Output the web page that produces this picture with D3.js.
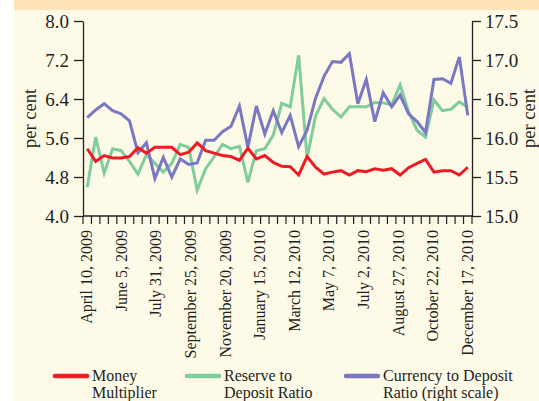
<!DOCTYPE html>
<html>
<head>
<meta charset="utf-8">
<script src="https://cdn.jsdelivr.net/npm/d3@7"></script>
<style>
	body { margin: 0; padding: 0; background: #ffffff; }
	svg { display: block; }
	text { font-family: "Liberation Serif", "Times New Roman", serif; fill: #231f20; }
</style>
</head>
<body>
<div id="chart"></div>
<script>
// fortnightly observations, April 10, 2009 to December 17, 2010
var dateLabels = ["April 10, 2009", "June 5, 2009", "July 31, 2009", "September 25, 2009",
	"November 20, 2009", "January 15, 2010", "March 12, 2010", "May 7, 2010",
	"July 2, 2010", "August 27, 2010", "October 22, 2010", "December 17, 2010"];

var moneyMultiplier = [5.38, 5.12, 5.24, 5.19, 5.19, 5.22, 5.40, 5.29, 5.41, 5.41,
	5.41, 5.26, 5.31, 5.50, 5.34, 5.29, 5.24, 5.22, 5.14, 5.39,
	5.17, 5.24, 5.10, 5.02, 5.01, 4.84, 5.22, 5.00, 4.86, 4.90,
	4.93, 4.84, 4.93, 4.91, 4.97, 4.94, 4.97, 4.84, 4.99, 5.08,
	5.16, 4.90, 4.93, 4.93, 4.84, 5.00];

var reserveRatio = [4.59, 5.62, 4.88, 5.38, 5.34, 5.12, 4.86, 5.26, 5.08, 4.90,
	5.08, 5.47, 5.41, 4.53, 4.97, 5.21, 5.47, 5.38, 5.43, 4.69,
	5.34, 5.38, 5.66, 6.31, 6.24, 7.30, 5.19, 6.05, 6.41, 6.19,
	6.03, 6.24, 6.24, 6.24, 6.33, 6.32, 6.28, 6.69, 6.14, 5.76,
	5.62, 6.38, 6.16, 6.19, 6.34, 6.23];

var currencyRatio = [16.26, 16.36, 16.44, 16.35, 16.31, 16.22, 15.81, 15.94, 15.48, 15.75,
	15.50, 15.73, 15.66, 15.68, 15.97, 15.97, 16.08, 16.15, 16.41, 15.88,
	16.41, 16.05, 16.35, 16.07, 16.29, 15.89, 16.10, 16.51, 16.79, 16.98,
	16.97, 17.08, 16.44, 16.75, 16.21, 16.58, 16.40, 16.55, 16.31, 16.21,
	16.07, 16.75, 16.76, 16.70, 17.04, 16.29];

var leftTicks = [4.0, 4.8, 5.6, 6.4, 7.2, 8.0];
var rightTicks = [15.0, 15.5, 16.0, 16.5, 17.0, 17.5];

var seriesNames = ["Money|Multiplier", "Reserve to|Deposit Ratio", "Currency to Deposit|Ratio (right scale)"];
var seriesColors = ["#ed1c24", "#7fcc9c", "#7a78c0"];


var width = 539, height = 401;
var plotLeft = 83, plotRight = 472, plotTop = 21, plotBottom = 216;

var svg = d3.select("#chart").append("svg")
			.attr("width", width)
			.attr("height", height);

// backgrounds
svg.append("rect")
	.attr("x", 0).attr("y", 0)
	.attr("width", width).attr("height", height)
	.attr("fill", "#fefae8");
svg.append("rect")
	.attr("x", 0).attr("y", 0)
	.attr("width", width).attr("height", 10)
	.attr("fill", "#fde3b7");
svg.append("rect")
	.attr("x", 0).attr("y", 0)
	.attr("width", 14).attr("height", height)
	.attr("fill", "#ffffff");

var n = moneyMultiplier.length;

var x = d3.scaleBand()
			.domain(d3.range(n))
			.range([plotLeft, plotRight]);

var xLabel = d3.scaleLinear()
			.domain([0, dateLabels.length - 1])
			.range([x(0) + x.bandwidth() / 2, x(n - 1) + x.bandwidth() / 2]);

var yLeft = d3.scaleLinear()
			.domain([4.0, 8.0])
			.range([plotBottom, plotTop]);

var yRight = d3.scaleLinear()
			.domain([15.0, 17.5])
			.range([plotBottom, plotTop]);

// lines
function drawSeries(values, yScale, color){
	var line = d3.line()
				.x(function(d, i){ return x(i) + x.bandwidth() / 2; })
				.y(function(d){ return yScale(d); });

	svg.append("path")
		.datum(values)
		.attr("d", line)
		.attr("fill", "none")
		.attr("stroke", color)
		.attr("stroke-width", 3)
		.attr("stroke-linejoin", "miter");
}

drawSeries(reserveRatio, yLeft, seriesColors[1]);
drawSeries(currencyRatio, yRight, seriesColors[2]);
drawSeries(moneyMultiplier, yLeft, seriesColors[0]);

// axes
var leftAxis = d3.axisLeft(yLeft)
				.tickValues(leftTicks)
				.tickFormat(d3.format(".1f"))
				.tickSize(9)
				.tickPadding(5)
				.tickSizeOuter(0);

var rightAxis = d3.axisRight(yRight)
				.tickValues(rightTicks)
				.tickFormat(d3.format(".1f"))
				.tickSize(9)
				.tickPadding(4)
				.tickSizeOuter(0);

var gLeft = svg.append("g")
			.attr("transform", "translate(" + plotLeft + ",0)")
			.call(leftAxis);

var gRight = svg.append("g")
			.attr("transform", "translate(" + plotRight + ",0)")
			.call(rightAxis);

[gLeft, gRight].forEach(function(g){
	g.attr("font-family", null);
	g.selectAll("path, line")
		.attr("stroke", "#231f20")
		.attr("stroke-width", 1.3);
	g.selectAll("text")
		.attr("font-size", 19)
		.attr("fill", "#231f20");
});

// x axis line and fortnight ticks at band edges
svg.append("line")
	.attr("x1", plotLeft).attr("x2", plotRight)
	.attr("y1", plotBottom).attr("y2", plotBottom)
	.attr("stroke", "#231f20")
	.attr("stroke-width", 1.3);

svg.append("g")
	.selectAll("line")
	.data(d3.range(n + 1))
	.join("line")
	.attr("x1", function(d){ return d < n ? x(d) : x(n - 1) + x.bandwidth(); })
	.attr("x2", function(d){ return d < n ? x(d) : x(n - 1) + x.bandwidth(); })
	.attr("y1", plotBottom)
	.attr("y2", plotBottom + 8)
	.attr("stroke", "#231f20")
	.attr("stroke-width", 1.2);

svg.append("g")
	.selectAll("text")
	.data(dateLabels)
	.join("text")
	.attr("transform", function(d, i){ return "translate(" + (xLabel(i) + 5) + "," + (plotBottom + 14) + ") rotate(-90)"; })
	.attr("text-anchor", "end")
	.attr("font-size", 16)
	.text(function(d){ return d; });

// axis titles
svg.append("text")
	.attr("transform", "translate(36," + ((plotTop + plotBottom) / 2) + ") rotate(-90)")
	.attr("text-anchor", "middle")
	.attr("font-size", 18.5)
	.text("per cent");

svg.append("text")
	.attr("transform", "translate(535," + ((plotTop + plotBottom) / 2) + ") rotate(-90)")
	.attr("text-anchor", "middle")
	.attr("font-size", 18.5)
	.text("per cent");

// legend
var legendX = [55, 187, 346];
seriesNames.forEach(function(name, i){
	var g = svg.append("g")
				.attr("transform", "translate(" + legendX[i] + ",376)");
	g.append("line")
		.attr("x1", 0).attr("x2", 32)
		.attr("y1", 0).attr("y2", 0)
		.attr("stroke", seriesColors[i])
		.attr("stroke-width", 4.5)
		.attr("stroke-linecap", "round");
	var t = g.append("text")
				.attr("x", 37)
				.attr("y", 5)
				.attr("font-size", 16);
	name.split("|").forEach(function(part, j){
		t.append("tspan")
			.attr("x", 37)
			.attr("dy", j === 0 ? 0 : 16.5)
			.text(part);
	});
});
</script>
</body>
</html>
